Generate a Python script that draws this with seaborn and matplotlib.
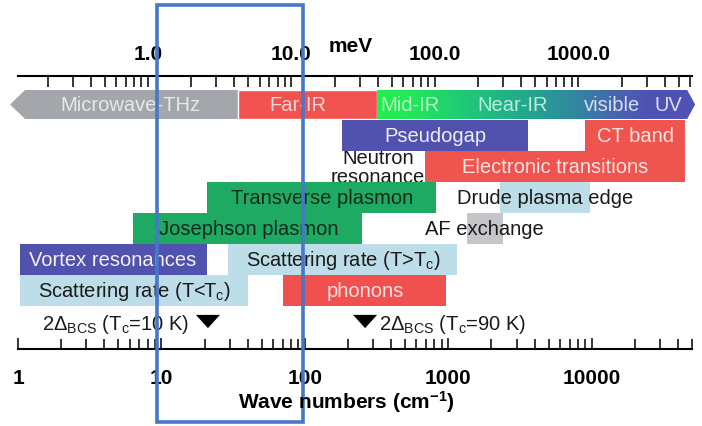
import numpy as np
import matplotlib
matplotlib.use("Agg")
import matplotlib.pyplot as plt
import seaborn as sns
import pandas as pd
from matplotlib.patches import Polygon, Rectangle
from matplotlib.colors import LinearSegmentedColormap
from matplotlib.ticker import LogLocator, NullFormatter, FixedLocator
import matplotlib.transforms as mtrans

# ---------------- data (wave numbers, cm^-1) ----------------
spec_names = ["Microwave-THz", "Far-IR", "Mid-IR", "Near-IR", "visible", "UV"]
spec_label_x = [6.1, 90, 540, 2790, 13900, 34100]
# microwave arrow: tip, shoulder, end ; far-IR end ; UV start, UV shoulder, UV tip
micro_tip, micro_start, micro_end = 0.88, 1.12, 34.2
farir_end = 319
uv_start, uv_end, uv_tip = 23500, 46300, 52600

bands = ["Pseudogap", "CT band", "Electronic transitions", "Transverse plasmon",
         "Drude plasma edge", "Josephson plasmon", "AF exchange",
         "Vortex resonances", "Scattering rate (T>T$_{\\mathregular{c}}$)",
         "Scattering rate (T<T$_{\\mathregular{c}}$)", "phonons"]
band_start = [182, 9000, 690, 20.8, 2300, 6.3, 1350, 1.03, 29, 1.03, 70.5]
band_end = [3600, 44800, 44800, 822, 9750, 250, 2410, 20.8, 1150, 40.2, 965]
band_row = [1, 1, 2, 3, 3, 4, 4, 5, 5, 6, 6]
band_label_x = [809, 20080, 5556, 132, 4732, 40.8, 1778, 4.6, 184.6, 6.44, 263]

neutron_label = ["Neutron", "resonance"]
neutron_x = 324

gap_labels = ["2Δ$_{\\mathregular{BCS}}$ (T$_{\\mathregular{c}}$=10 K)",
              "2Δ$_{\\mathregular{BCS}}$ (T$_{\\mathregular{c}}$=90 K)"]
gap_x = [21.1, 263]
gap_label_x = [4.82, 1080]

bottom_ticks = [1, 10, 100, 1000, 10000]
bottom_labels = ["1", "10", "100", "1000", "10000"]
top_ticks = [1, 10, 100, 1000]
top_labels = ["1.0", "10.0", "100.0", "1000.0"]
cm_per_meV = 8.0655

highlight = [9.3, 97]

# ---------------- styles ----------------
sns.set_theme(style="white")
plt.rcParams['font.family'] = ['Liberation Sans', 'DejaVu Sans']
plt.rcParams['mathtext.fontset'] = 'custom'
plt.rcParams['mathtext.rm'] = 'Liberation Sans'
plt.rcParams['mathtext.it'] = 'Liberation Sans:italic'
plt.rcParams['mathtext.bf'] = 'Liberation Sans:bold'

band_colors = ["#5151ae", "#f0544f", "#f0544f", "#1faa63", "#bddde8", "#1faa63",
               "#c4c6ca", "#5151ae", "#bddde8", "#bddde8", "#f0504e"]
band_text_colors = ["#ececf8", "#fde2e2", "#fde2e2", "#0e2a1c", "#1a1a1a", "#0e2a1c",
                    "#1a1a1a", "#f0f0fa", "#1a1a1a", "#1a1a1a", "#fde2e2"]
spec_text_colors = ["#e8e8e8", "#fcd4d4", "#b8f8c4", "#b8eedc", "#d8dcf0", "#dcdcf4"]
FS = 14.5

fig = plt.figure(figsize=(7.02, 4.27), dpi=100)
ax = fig.add_axes([18 / 702, 1 - 350 / 427, 674 / 702, 273 / 427])
ax.set_xscale('log')
ax.set_xlim(1, 50000)
ax.set_ylim(7.887, -0.919)
ax.set_facecolor('white')

# spectrum row (row 0)
h0 = 0.935
top0, bot0 = -h0 / 2, h0 / 2
ax.add_patch(Polygon([(micro_end, top0), (micro_start, top0), (micro_tip, 0),
                      (micro_start, bot0), (micro_end, bot0)],
                     closed=True, facecolor="#a3a7ab", edgecolor='none', clip_on=False, zorder=2))
ax.barh(0, farir_end - micro_end, left=micro_end, height=h0, color="#f0524f", zorder=2)
cmap = LinearSegmentedColormap.from_list("spec", [
    (0.0, "#22ee4e"), (0.12, "#22e858"), (0.35, "#1fc47a"),
    (0.55, "#22a88c"), (0.72, "#2f8a9e"), (0.88, "#4468ad"), (1.0, "#4f53b2")])
xe = np.geomspace(farir_end, uv_start, 200)
ax.pcolormesh(xe, [top0, bot0], np.linspace(0, 1, 199)[None, :], cmap=cmap,
              shading='flat', zorder=2)
ax.add_patch(Polygon([(uv_start, top0), (uv_end, top0), (uv_tip, 0),
                      (uv_end, bot0), (uv_start, bot0)],
                     closed=True, facecolor="#4f52b2", edgecolor='none', clip_on=False, zorder=2))
for name, xl, c in zip(spec_names, spec_label_x, spec_text_colors):
    ax.text(xl, 0, name, ha='center', va='center', fontsize=FS, color=c, zorder=4)

# neutron resonance (behind pseudogap)
ax.text(neutron_x, 1.72, neutron_label[0], ha='center', va='center', fontsize=FS,
        color="#1a1a1a", zorder=1)
ax.text(neutron_x, 2.33, neutron_label[1], ha='center', va='center', fontsize=FS,
        color="#1a1a1a", zorder=1)

# bands
for name, s, e, r, c, tc, xl in zip(bands, band_start, band_end, band_row,
                                   band_colors, band_text_colors, band_label_x):
    ax.barh(r, e - s, left=s, height=1.0, color=c, edgecolor='none', zorder=2)
    ax.text(xl, r, name, ha='center', va='center', fontsize=FS, color=tc, zorder=4)

# 2 Delta markers
tri = [(-1, 0.55), (1, 0.55), (0, -0.55)]
gap_df = pd.DataFrame({"x": gap_x, "y": [7, 7]})
sns.scatterplot(data=gap_df, x="x", y="y", marker=tri, s=300, color='black',
                edgecolor='none', ax=ax, legend=False, zorder=5, clip_on=False)
for lab, xl in zip(gap_labels, gap_label_x):
    ax.text(xl, 7.05, lab, ha='center', va='center', fontsize=14.5, color='#1a1a1a', zorder=4)

# axes / spines
for sp in ['left', 'right', 'top']:
    ax.spines[sp].set_visible(False)
ax.spines['bottom'].set_linewidth(1.5)
ax.spines['bottom'].set_color('black')
ax.set_yticks([])
ax.set_ylabel('')
ax.set_xlabel('')
ax.xaxis.set_major_locator(FixedLocator(bottom_ticks))
ax.set_xticks(bottom_ticks, labels=bottom_labels, fontweight='bold', fontsize=15)
ax.xaxis.set_minor_locator(LogLocator(base=10, subs=np.arange(2, 10)))
ax.xaxis.set_minor_formatter(NullFormatter())
ax.tick_params(axis='x', which='both', direction='in', bottom=True, top=False,
               color='black', width=1.1, pad=14, labelcolor='black')
ax.tick_params(axis='x', which='major', length=8)
ax.tick_params(axis='x', which='minor', length=7)

secax = ax.secondary_xaxis('top', functions=(lambda x: x / cm_per_meV,
                                             lambda x: x * cm_per_meV))
secax.spines['top'].set_linewidth(1.5)
secax.spines['top'].set_color('black')
secax.set_xticks(top_ticks, labels=top_labels, fontweight='bold', fontsize=15)
secax.xaxis.set_minor_locator(LogLocator(base=10, subs=np.arange(2, 10)))
secax.xaxis.set_minor_formatter(NullFormatter())
secax.tick_params(axis='x', which='both', direction='in', color='black', width=1.1,
                  pad=9, labelcolor='black')
secax.tick_params(axis='x', which='major', length=8)
secax.tick_params(axis='x', which='minor', length=8)

fig.text(351 / 702, 1 - 47 / 427, "meV", ha='center', va='center', fontsize=15,
         fontweight='bold', color='black')
fig.text(346 / 702, 1 - 402 / 427, "Wave numbers (cm$^{\\mathregular{-1}}$)", ha='center',
         va='center', fontsize=15, fontweight='bold', color='black')

# highlight box
bt = mtrans.blended_transform_factory(ax.transData, fig.transFigure)
ax.add_patch(Rectangle((highlight[0], 1 - 423 / 427), highlight[1] - highlight[0],
                       (423 - 6) / 427, transform=bt, fill=False, edgecolor="#4677c8",
                       linewidth=2.6, clip_on=False, zorder=10))

fig.savefig("out.png", dpi=100, facecolor='white')
